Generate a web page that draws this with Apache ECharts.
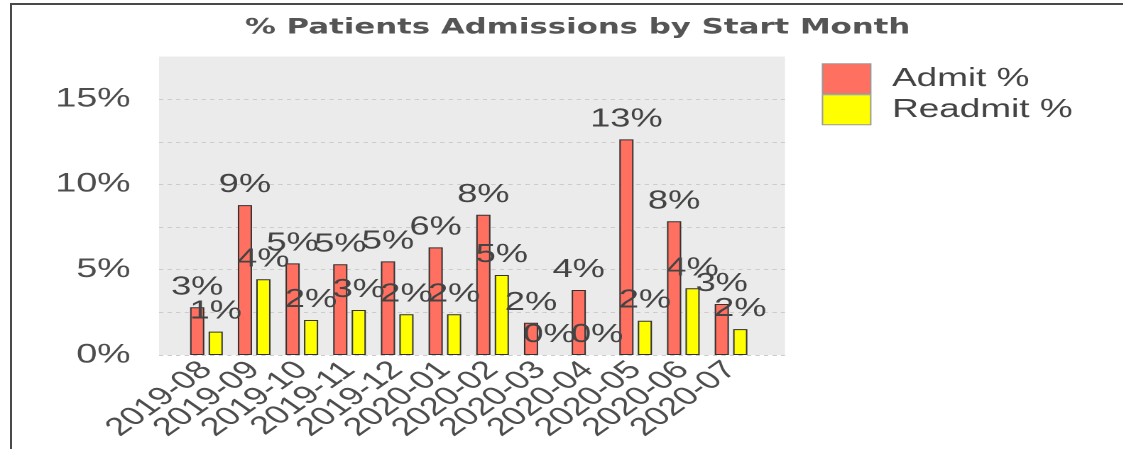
<!DOCTYPE html>
<html>
<head>
<meta charset="utf-8">
<script src="https://cdn.jsdelivr.net/npm/echarts@6/dist/echarts.min.js"></script>
<style>
  html, body { margin: 0; padding: 0; background: #fff; overflow: hidden; width: 1123px; height: 449px; }
  #frame { position: absolute; left: 10px; top: 3px; width: 1113px; height: 446px;
           border-left: 2px solid #4a4a4a; border-top: 2px solid #4a4a4a; box-sizing: border-box; }
  #chart { position: absolute; left: 0; top: 0; width: 791px; height: 449px;
           transform: scaleX(1.42); transform-origin: 0 0; }
</style>
</head>
<body>
<div id="frame"></div>
<div id="chart"></div>
<script>
const months = ['2019-08','2019-09','2019-10','2019-11','2019-12','2020-01','2020-02','2020-03','2020-04','2020-05','2020-06','2020-07'];
const admitPct = [2.80, 8.79, 5.37, 5.32, 5.49, 6.31, 8.22, 1.89, 3.81, 12.64, 7.84, 2.99];
const readmitPct = [1.37, 4.44, 2.05, 2.64, 2.39, 2.39, 4.69, 0, 0, 2.01, 3.91, 1.52];
const yTickLabels = [0, 5, 10, 15];
const seriesNames = ['Admit %', 'Readmit %'];
const titleText = '% Patients Admissions by Start Month';

const chart = echarts.init(document.getElementById('chart'), null, { renderer: 'canvas', devicePixelRatio: 2 });
const textFont = 'Liberation Sans, Arial, sans-serif';
const labelCfg = {
  show: true, position: 'top', distance: 7,
  fontFamily: textFont, fontSize: 25.5, color: '#444',
  formatter: p => Math.round(p.value) + '%'
};
// zero-height bars carry no visible outline
const toBarData = arr => arr.map(v => v === 0 ? { value: v, itemStyle: { borderWidth: 0 } } : v);

const option = {
  animation: false,
  title: {
    text: titleText, left: 172.5, top: 17, padding: 0,
    textStyle: { fontFamily: 'DejaVu Sans', fontWeight: 'bold', fontSize: 21.7, color: '#555' }
  },
  legend: {
    orient: 'vertical', left: 578.7, top: 63.3, padding: 0, itemWidth: 34, itemHeight: 30, itemGap: 0,
    icon: 'rect', data: seriesNames,
    itemStyle: { borderColor: '#999', borderWidth: 1 },
    textStyle: { fontFamily: textFont, fontSize: 26, color: '#444', padding: [0, 0, 0, 10] }
  },
  grid: [
    { left: 112, top: 56.5, width: 440.8, height: 298.5, show: true, backgroundColor: '#EBEBEB', borderWidth: 0 },
    { left: 128.6, top: 56.5, width: 403, height: 298.5 }
  ],
  xAxis: [
    { gridIndex: 0, type: 'value', show: false, min: 0, max: 1 },
    { gridIndex: 1, type: 'category', data: months,
      axisLine: { show: false }, axisTick: { show: false },
      axisLabel: { rotate: 45, margin: 11, interval: 0, fontFamily: textFont, fontSize: 25.5, color: '#4D4D4D' } }
  ],
  yAxis: [
    { gridIndex: 0, type: 'value', min: 0, max: 17.5, interval: 2.5,
      axisLine: { show: false }, axisTick: { show: false },
      axisLabel: { margin: 20, fontFamily: textFont, fontSize: 26.5, color: '#4D4D4D',
        formatter: v => yTickLabels.indexOf(v) >= 0 ? v + '%' : '' },
      splitLine: { show: true, showMaxLine: false, lineStyle: { color: '#CCCCCC', type: [3, 3], width: 1 } } },
    { gridIndex: 1, type: 'value', min: 0, max: 17.5, show: false, splitLine: { show: false } }
  ],
  series: [
    { name: seriesNames[0], type: 'bar', xAxisIndex: 1, yAxisIndex: 1, data: toBarData(admitPct),
      barWidth: 10, barGap: '30%',
      itemStyle: { color: '#FF7060', borderColor: '#333', borderWidth: 1 }, label: labelCfg },
    { name: seriesNames[1], type: 'bar', xAxisIndex: 1, yAxisIndex: 1, data: toBarData(readmitPct),
      barWidth: 10, barGap: '30%',
      itemStyle: { color: '#FFFF00', borderColor: '#333', borderWidth: 1 }, label: labelCfg }
  ]
};
chart.setOption(option);
</script>
</body>
</html>
